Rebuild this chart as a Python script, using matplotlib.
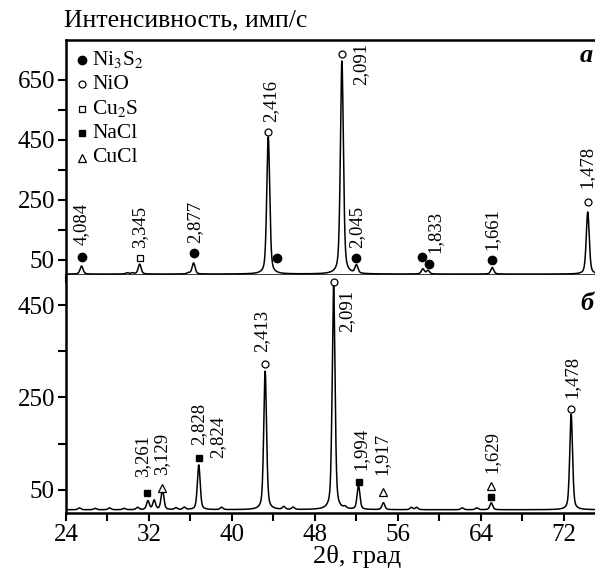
import numpy as np
import matplotlib.pyplot as plt

plt.rcParams['font.family'] = ['Liberation Serif', 'DejaVu Serif']
plt.rcParams['mathtext.fontset'] = 'stix'

# ---- panel a (top): peaks (2theta, counts)
a_pos = [25.5, 29.9, 30.4, 31.1, 35.8, 36.3, 43.5, 50.6, 52.0, 58.4, 58.9, 65.1, 74.3]
a_height = [27, 4, 4, 33, 4, 37, 457, 710, 27, 17, 12, 22, 207]
a_base = 3

a_mark_x = [25.5, 31.1, 36.3, 43.5, 44.3, 50.6, 52.0, 58.3, 59.0, 65.1, 74.3]
a_mark_y = [60, 57, 73, 477, 57, 737, 57, 60, 37, 50, 243]
a_mark_kind = ["Ni3S2", "Cu2S", "Ni3S2", "NiO", "Ni3S2", "NiO", "Ni3S2",
               "Ni3S2", "Ni3S2", "Ni3S2", "NiO"]

a_lab = ["4,084", "3,345", "2,877", "2,416", "2,091", "2,045", "1,833", "1,661", "1,478"]
a_lab_x = [25.5, 31.1, 36.4, 43.7, 52.4, 52.05, 59.6, 65.05, 74.2]
a_lab_y = [100, 90, 107, 510, 773, 90, 73, 83, 290]
a_lab_va = ["bottom", "bottom", "bottom", "bottom", "top", "bottom", "bottom", "bottom", "bottom"]

# ---- panel b (bottom)
b_pos = [25.3, 26.8, 28.2, 29.6, 30.9, 31.9, 32.5, 33.3, 34.6, 35.4, 36.8, 39.0,
         43.2, 45.0, 45.9, 49.8, 50.9, 52.2, 54.6, 57.3, 57.8, 62.2, 63.6, 65.0, 72.7]
b_height = [4, 3, 4, 3, 5, 19, 20, 43, 4, 5, 97, 5,
            300, 6, 5, 485, 4, 52, 15, 5, 5, 4, 4, 15, 207]
b_base = 7

b_mark_x = [31.8, 33.3, 36.8, 43.2, 49.8, 52.2, 54.6, 65.0, 65.0, 72.7]
b_mark_y = [43, 54, 119, 322, 500, 67, 45, 35, 58, 225]
b_mark_kind = ["NaCl", "CuCl", "NaCl", "NiO", "NiO", "NaCl", "CuCl", "NaCl", "CuCl", "NiO"]

b_lab = ["3,261", "3,129", "2,828", "2,824", "2,413", "2,091", "1,994", "1,917", "1,629", "1,478"]
b_lab_x = [31.4, 33.25, 36.8, 38.65, 42.9, 51.1, 52.4, 54.45, 65.05, 72.8]
b_lab_y = [78, 82, 147, 119, 348, 482, 93, 82, 86, 249]
b_lab_va = ["bottom", "bottom", "bottom", "bottom", "bottom", "top", "bottom", "bottom", "bottom", "bottom"]

phases = ["Ni3S2", "NiO", "Cu2S", "NaCl", "CuCl"]
phase_names = ["Ni$_3$S$_2$", "NiO", "Cu$_2$S", "NaCl", "CuCl"]
styles = {
    "Ni3S2": dict(marker="o", mfc="k", mec="k", ms=6),
    "NiO": dict(marker="o", mfc="white", mec="k", ms=5, mew=0.9),
    "Cu2S": dict(marker="s", mfc="white", mec="k", ms=5, mew=0.9),
    "NaCl": dict(marker="s", mfc="k", mec="k", ms=5),
    "CuCl": dict(marker="^", mfc="white", mec="k", ms=6, mew=0.9),
}


def profile(x, pos, height, base, w=0.17):
    y = np.full_like(x, base, dtype=float)
    for c, h in zip(pos, height):
        d = (x - c) / w
        y += h * (0.55 * np.exp(-0.693 * d ** 2) + 0.45 / (1 + d ** 2))
    return y


x = np.linspace(24, 75, 4000)

fig = plt.figure(figsize=(5.95, 5.74), dpi=100)
ax1 = fig.add_axes([66 / 595, 299 / 574, 529 / 595, 235 / 574])
ax2 = fig.add_axes([66 / 595, 61 / 574, 529 / 595, 238 / 574])

ax1.plot(x, profile(x, a_pos, a_height, a_base), color="k", lw=1.1)
ax2.plot(x, profile(x, b_pos, b_height, b_base, w=0.16), color="k", lw=1.1)

for ax, mx, my, mk in [(ax1, a_mark_x, a_mark_y, a_mark_kind),
                       (ax2, b_mark_x, b_mark_y, b_mark_kind)]:
    for xx, yy, k in zip(mx, my, mk):
        ax.plot([xx], [yy], ls="none", clip_on=False, zorder=5, **styles[k])

for ax, labs, lx, ly, lva in [(ax1, a_lab, a_lab_x, a_lab_y, a_lab_va),
                              (ax2, b_lab, b_lab_x, b_lab_y, b_lab_va)]:
    for t, xx, yy, va in zip(labs, lx, ly, lva):
        ax.text(xx, yy, t, rotation=90, ha="center", va=va, fontsize=13.5)

# legend, drawn by hand in the top panel
for i, (p, name) in enumerate(zip(phases, phase_names)):
    yy = 1 - (20 + 24.5 * i) / 235
    ax1.plot([16 / 529], [yy], transform=ax1.transAxes, ls="none", clip_on=False,
             **styles[p])
    ax1.text(26 / 529, yy, name, transform=ax1.transAxes, va="center", ha="left",
             fontsize=15.5)

ax1.set_xlim(24, 75)
ax2.set_xlim(24, 75)
ax1.set_ylim(0, 783)
ax2.set_ylim(0, 515)

ax1.set_yticks([50, 250, 450, 650])
ax1.set_yticks([150, 350, 550], minor=True)
ax2.set_yticks([50, 250, 450])
ax2.set_yticks([150, 350], minor=True)
for ax in (ax1, ax2):
    ax.set_xticks(np.arange(24, 76, 8))
    ax.set_xticks(np.arange(28, 76, 8), minor=True)
    ax.tick_params(which="both", direction="out", length=6, width=1.5)
    ax.tick_params(axis="y", labelsize=18, pad=2)
    ax.tick_params(axis="x", labelsize=18, pad=2)
    ax.spines["right"].set_visible(False)
    for s in ax.spines.values():
        s.set_linewidth(1.8)
ax1.tick_params(axis="x", labelbottom=False)
ax2.spines["top"].set_visible(False)

fig.text(64 / 595, 1 - 20 / 574, "Интенсивность, имп/с", fontsize=18.5,
         ha="left", va="center")
fig.text(357 / 595, 1 - 557 / 574, "2θ, град", fontsize=19, ha="center", va="center")
fig.text(593 / 595, 1 - 55 / 574, "a", fontsize=19, fontweight="bold",
         fontstyle="italic", ha="right", va="center")
fig.text(593 / 595, 1 - 303 / 574, "б", fontsize=19, fontweight="bold",
         fontstyle="italic", ha="right", va="center")

fig.savefig("out.png", dpi=100)
